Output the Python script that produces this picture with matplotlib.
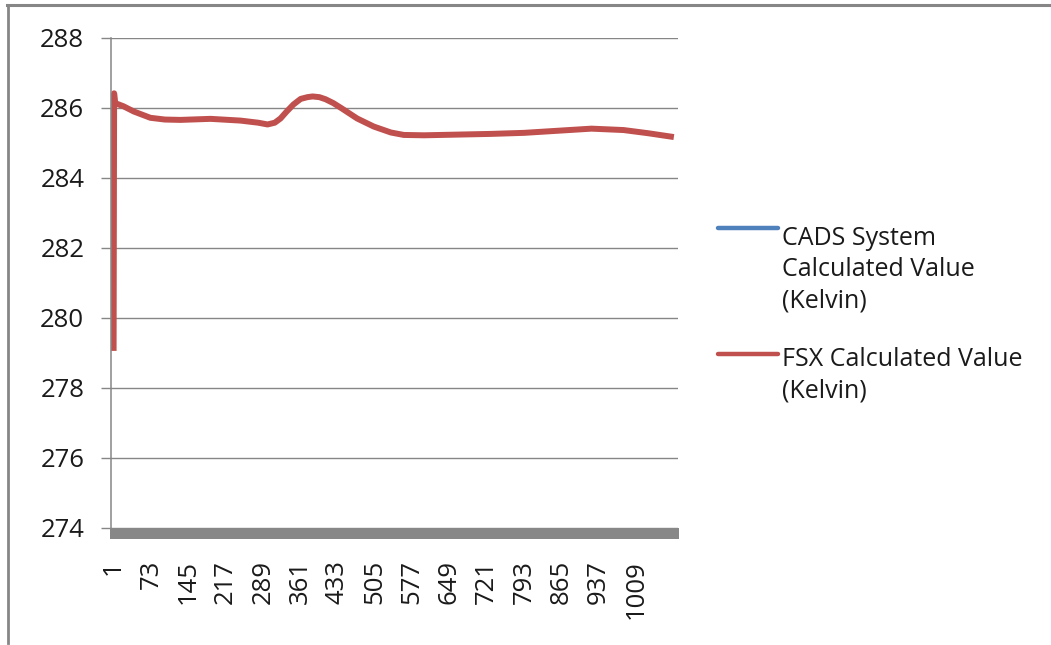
import matplotlib
matplotlib.use("Agg")
import matplotlib.pyplot as plt
from matplotlib.lines import Line2D
from matplotlib.patches import Rectangle

# ---- data ----
n_categories = 1088
tick_labels = [1, 73, 145, 217, 289, 361, 433, 505, 577, 649, 721, 793, 865, 937, 1009]
y_ticks = [274, 276, 278, 280, 282, 284, 286, 288]

fsx_index = [1, 2, 4, 20, 40, 72, 100, 130, 188, 246, 280, 298, 312, 323, 335, 348, 362,
             375, 385, 398, 410, 425, 440, 471, 503, 536, 561, 600, 632, 729, 793, 858,
             923, 985, 1032, 1082]
fsx_values = [279.06, 286.42, 286.14, 286.05, 285.90, 285.72, 285.67, 285.66, 285.69,
              285.64, 285.58, 285.53, 285.58, 285.70, 285.90, 286.10, 286.26, 286.31,
              286.33, 286.31, 286.25, 286.14, 286.00, 285.70, 285.47, 285.30, 285.23,
              285.22, 285.23, 285.26, 285.29, 285.35, 285.41, 285.37, 285.28, 285.17]

cads_index = []   # CADS series is not visible in the chart area
cads_values = []

series_names = ["CADS System\nCalculated Value\n(Kelvin)", "FSX Calculated Value\n(Kelvin)"]
series_colors = ["#4F81BD", "#C0504D"]

# ---- figure ----
plt.rcParams['font.family'] = ['Open Sans', 'DejaVu Sans']
W, H = 1051, 645
fig = plt.figure(figsize=(W / 100, H / 100), dpi=100)
fig.patch.set_facecolor('white')

x0, x1, ytop, ybot = 111, 678, 38, 528
ax = fig.add_axes([x0 / W, 1 - ybot / H, (x1 - x0) / W, (ybot - ytop) / H])

ax.plot(cads_index, cads_values, color=series_colors[0], lw=4.3)
ax.plot(fsx_index, fsx_values, color=series_colors[1], lw=4.3,
        solid_joinstyle='round', solid_capstyle='butt')

ax.set_ylim(274, 288)
ax.set_yticks(y_ticks)
ax.set_yticklabels([str(v) for v in y_ticks])
ax.set_xlim(-4, n_categories + 2)
ax.set_xticks(tick_labels)
ax.set_xticklabels([str(v) for v in tick_labels], rotation=90, va='top', ha='center')

grid_col = '#868686'
txt_col = '#1a1a1a'
ax.grid(axis='y', color=grid_col, lw=1.0)
ax.grid(axis='x', visible=False)
ax.set_axisbelow(True)
for s in ['top', 'right', 'bottom']:
    ax.spines[s].set_visible(False)
ax.spines['left'].set_color(grid_col)
ax.spines['left'].set_linewidth(1.1)

ax.tick_params(axis='y', length=7.2, width=1.0, color=grid_col, pad=12,
               labelsize=18.5, labelcolor=txt_col)
ax.tick_params(axis='x', length=0, pad=23, labelsize=18.5, labelcolor=txt_col)

# thick grey category-axis band
fig.add_artist(Rectangle((110 / W, 1 - 539 / H), (679 - 110) / W, 11 / H,
                         transform=fig.transFigure, color='#878787', lw=0))

# outer chart border (left and top)
fig.add_artist(Line2D([7.8 / W, 7.8 / W], [1 - 643 / H, 1 - 4.8 / H],
                      transform=fig.transFigure, color=grid_col, lw=2))
fig.add_artist(Line2D([7 / W, 1.0], [1 - 4.8 / H, 1 - 4.8 / H],
                      transform=fig.transFigure, color=grid_col, lw=2.2))

# legend (drawn to match Excel layout)
handle_y = [228, 354]
first_baseline = [245, 366]
line_step = 31
for name, col, hy, by in zip(series_names, series_colors, handle_y, first_baseline):
    fig.add_artist(Line2D([718 / W, 778 / W], [1 - hy / H, 1 - hy / H],
                          transform=fig.transFigure, color=col, lw=3.2,
                          solid_capstyle='round'))
    for k, part in enumerate(name.split('\n')):
        fig.text(782 / W, 1 - (by + k * line_step) / H, part, ha='left', va='baseline',
                 fontsize=18, color=txt_col)

fig.savefig('out.png', dpi=100, facecolor='white')
